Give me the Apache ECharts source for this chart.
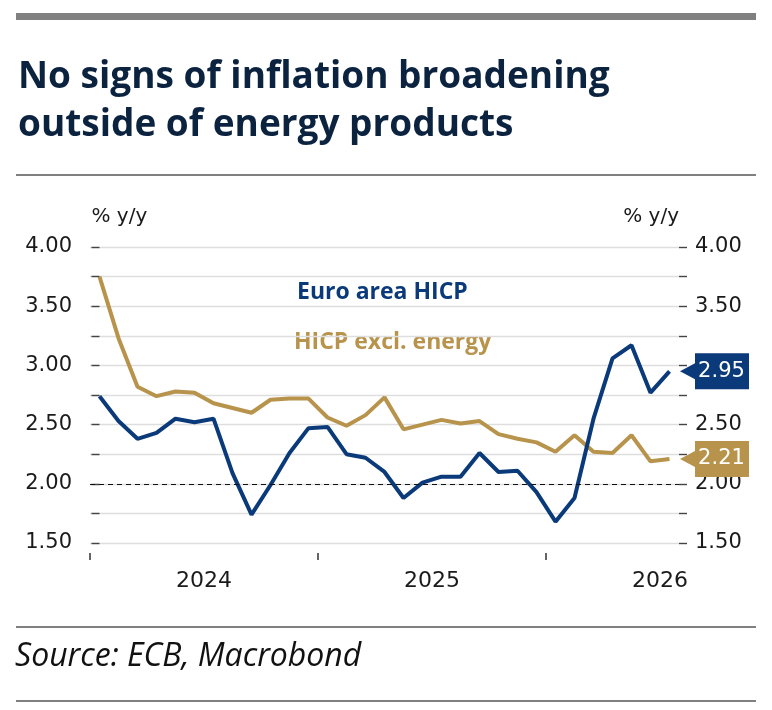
<!DOCTYPE html>
<html>
<head>
<meta charset="utf-8">
<title>No signs of inflation broadening outside of energy products</title>
<script src="https://cdn.jsdelivr.net/npm/echarts@6/dist/echarts.min.js"></script>
<style>
  html, body { margin: 0; padding: 0; background: #fff; }
  #chart { width: 772px; height: 710px; }
</style>
</head>
<body>
<div id="chart"></div>
<script>
// monthly observations, Jan 2024 - Jul 2026
const months = [
  "2024-01", "2024-02", "2024-03", "2024-04", "2024-05", "2024-06",
  "2024-07", "2024-08", "2024-09", "2024-10", "2024-11", "2024-12",
  "2025-01", "2025-02", "2025-03", "2025-04", "2025-05", "2025-06",
  "2025-07", "2025-08", "2025-09", "2025-10", "2025-11", "2025-12",
  "2026-01", "2026-02", "2026-03", "2026-04", "2026-05", "2026-06",
  "2026-07"
];

const hicp = [
  2.74, 2.53, 2.38, 2.43, 2.55, 2.52, 2.55, 2.09, 1.74, 1.99,
  2.26, 2.47, 2.48, 2.25, 2.22, 2.10, 1.88, 2.01, 2.06, 2.06,
  2.26, 2.10, 2.11, 1.93, 1.68, 1.88, 2.55, 3.06, 3.17, 2.77,
  2.95
];

const hicpExEnergy = [
  3.75, 3.23, 2.82, 2.74, 2.78, 2.77, 2.68, 2.64, 2.60, 2.71,
  2.72, 2.72, 2.56, 2.49, 2.58, 2.73, 2.46, 2.50, 2.54, 2.51,
  2.53, 2.42, 2.38, 2.35, 2.27, 2.41, 2.27, 2.26, 2.41, 2.19,
  2.21
];

const yLabels = [1.5, 2.0, 2.5, 3.0, 3.5, 4.0];
const years = [2024, 2025, 2026];

const BLUE = "#0b3a7a";
const GOLD = "#b8934c";
const FONT = "DejaVu Sans, sans-serif";
const HEAD = "'Open Sans', sans-serif";

// x is the month index; each month is centred on its index,
// so a year starts half a step before its January and its middle is 6 months later
const yearStart = y => months.indexOf(y + "-01") - 0.5;
const yearMid = y => yearStart(y) + 6;

function seriesData(values) {
  return values.map((v, i) => [i, v]);
}

// tag-shaped end marker: arrow tip on the left, box on the right
const TAG = "path://M0,18 L15,10 L15,0 L69,0 L69,36 L15,36 L15,26 Z";

function endTag(values, color) {
  const last = values.length - 1;
  return {
    symbol: TAG,
    symbolSize: [69, 36],
    symbolOffset: [45, 0],
    itemStyle: { color: color },
    label: {
      show: true,
      position: "inside",
      offset: [7, 0],
      color: "#fff",
      fontFamily: FONT,
      fontSize: 21,
      formatter: p => Number(p.value).toFixed(2)
    },
    data: [{ coord: [last, values[last]], value: values[last] }]
  };
}

const chart = echarts.init(document.getElementById("chart"), null, { renderer: "canvas" });

const yAxisBase = {
  type: "value",
  min: 1.5,
  max: 4,
  interval: 0.25,
  name: "% y/y",
  nameLocation: "end",
  nameGap: 20,
  axisLine: { show: false },
  axisTick: { show: true, length: 8, lineStyle: { color: "#444", width: 1.4 } },
  axisLabel: {
    customValues: yLabels,
    formatter: v => v.toFixed(2),
    color: "#1a1a1a",
    fontFamily: FONT,
    fontSize: 21
  }
};

chart.setOption({
  animation: false,
  textStyle: { fontFamily: FONT },
  title: {
    text: "No signs of inflation broadening\noutside of energy products",
    left: 13,
    top: 48,
    textStyle: {
      fontFamily: HEAD,
      fontWeight: "bold",
      fontSize: 37,
      lineHeight: 48,
      color: "#0c2340"
    }
  },
  grid: { left: 90, right: 93, top: 247, bottom: 167, containLabel: false },
  xAxis: {
    type: "value",
    min: -0.5,
    max: months.length - 0.5,
    offset: 10,
    axisLine: { show: false },
    splitLine: { show: false },
    axisTick: {
      show: true,
      length: 7,
      customValues: years.map(yearStart),
      lineStyle: { color: "#333", width: 1.5 }
    },
    axisLabel: {
      customValues: years.map(yearMid),
      formatter: v => String(2024 + Math.floor((v + 0.5) / 12)),
      margin: 17,
      color: "#1a1a1a",
      fontFamily: FONT,
      fontSize: 22
    }
  },
  yAxis: [
    Object.assign({}, yAxisBase, {
      position: "left",
      nameTextStyle: { align: "left", color: "#1a1a1a", fontFamily: FONT, fontSize: 20, padding: [0, 0, 0, -8] },
      axisLabel: Object.assign({}, yAxisBase.axisLabel, { margin: 18 }),
      splitLine: { show: true, lineStyle: { color: "#dedede", width: 1.3 } }
    }),
    Object.assign({}, yAxisBase, {
      position: "right",
      nameTextStyle: { align: "right", color: "#1a1a1a", fontFamily: FONT, fontSize: 20 },
      axisLabel: Object.assign({}, yAxisBase.axisLabel, { margin: 16 }),
      splitLine: { show: false }
    })
  ],
  series: [
    {
      name: "HICP excl. energy",
      type: "line",
      data: seriesData(hicpExEnergy),
      showSymbol: false,
      lineStyle: { color: GOLD, width: 4 },
      itemStyle: { color: GOLD },
      markPoint: endTag(hicpExEnergy, GOLD),
      z: 3
    },
    {
      name: "Euro area HICP",
      type: "line",
      data: seriesData(hicp),
      showSymbol: false,
      lineStyle: { color: BLUE, width: 4 },
      itemStyle: { color: BLUE },
      markPoint: endTag(hicp, BLUE),
      markLine: {
        silent: true,
        symbol: "none",
        label: { show: false },
        lineStyle: { color: "#111", type: [5, 4], width: 1.2 },
        data: [{ yAxis: 2 }]
      },
      z: 4
    }
  ],
  graphic: [
    { type: "rect", left: 16, top: 13, shape: { width: 740, height: 7 }, style: { fill: "#808080" } },
    { type: "rect", left: 16, top: 174, shape: { width: 740, height: 2 }, style: { fill: "#808080" } },
    { type: "rect", left: 16, top: 626, shape: { width: 740, height: 2 }, style: { fill: "#808080" } },
    { type: "rect", left: 16, top: 700, shape: { width: 740, height: 2 }, style: { fill: "#808080" } },
    {
      type: "text", left: 297, top: 281,
      style: { text: "Euro area HICP", fill: BLUE, font: "bold 23px " + HEAD }
    },
    {
      type: "text", left: 294, top: 331,
      style: { text: "HICP excl. energy", fill: GOLD, font: "bold 23px " + HEAD }
    },
    {
      type: "text", left: 15, top: 641,
      style: { text: "Source: ECB, Macrobond", fill: "#111", font: "italic 32px " + HEAD }
    }
  ]
});
</script>
</body>
</html>
